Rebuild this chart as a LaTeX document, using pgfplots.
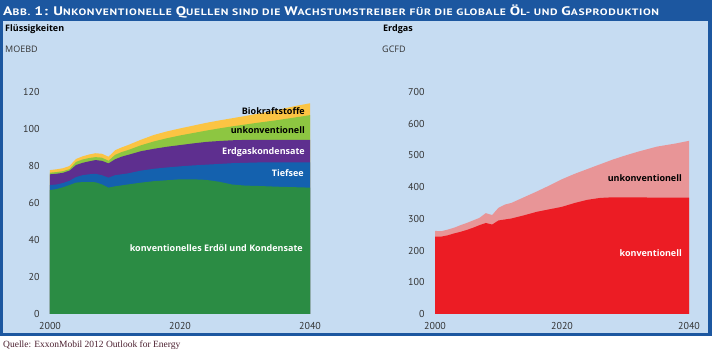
\documentclass[border=0pt]{standalone}
\usepackage{fontspec}
\setmainfont{Open Sans}
\newfontfamily\seriffont{Liberation Serif}
\newfontfamily\tickfont{PT Sans}
\newfontfamily\titlefont[FakeStretch=1.25,LetterSpace=7]{PT Sans}
\usepackage{pgfplots}
\pgfplotsset{compat=1.18}
\definecolor{frameblue}{HTML}{1C57A0}
\definecolor{panel}{HTML}{C6DCF2}
\definecolor{cgreen}{HTML}{2B8C44}
\definecolor{cblue}{HTML}{1461AE}
\definecolor{cpurple}{HTML}{5E2F8F}
\definecolor{clgreen}{HTML}{8DC641}
\definecolor{cyellow}{HTML}{FBC443}
\definecolor{cred}{HTML}{EC1C24}
\definecolor{cpink}{HTML}{E89597}
\definecolor{tickgray}{HTML}{333333}
\definecolor{srccol}{HTML}{4A1E2E}
\newcommand\Bg[1]{{\fontsize{12.4}{14}\selectfont #1}}
\newcommand\Sm[1]{{\fontsize{9.3}{11}\selectfont #1}}
\pgfplotsset{
  mystyle/.style={
    scale only axis,
    axis line style={draw=none},
    major tick length=0pt,
    xmin=2000, xmax=2040,
    xtick={2000,2020,2040},
    tick label style={font=\tickfont\fontsize{10}{12}\selectfont, text=tickgray},
    /pgf/number format/assume math mode=true,
    /pgf/number format/1000 sep={},
    yticklabel style={xshift=-7pt},
    xticklabel style={yshift=-5pt},
    anchor=south west,
  }
}
\begin{document}
\begin{tikzpicture}
\useasboundingbox (0pt,0pt) rectangle (712pt,355pt);
\fill[frameblue] (0pt,19pt) rectangle (712pt,355pt);
\fill[panel] (3pt,22pt) rectangle (708pt,334pt);
\node[anchor=base west, inner sep=0, text=white, font=\titlefont\bfseries] at (3pt,339pt)
 {\Bg{A}\Sm{BB.} \Bg{1:} \Bg{U}\Sm{NKONVENTIONELLE} \Bg{Q}\Sm{UELLEN SIND DIE} \Bg{W}\Sm{ACHSTUMSTREIBER FÜR DIE GLOBALE} \Bg{Ö}\Sm{L- UND} \Bg{G}\Sm{ASPRODUKTION}};
\node[anchor=west, inner sep=0, font=\bfseries\fontsize{9}{11}\selectfont] at (5pt,326pt) {Flüssigkeiten};
\node[anchor=west, inner sep=0, text=tickgray, font=\fontsize{9}{11}\selectfont] at (5pt,306pt) {MOEBD};
\node[anchor=west, inner sep=0, font=\bfseries\fontsize{9}{11}\selectfont] at (383pt,326pt) {Erdgas};
\node[anchor=west, inner sep=0, text=tickgray, font=\fontsize{9}{11}\selectfont] at (382pt,306pt) {GCFD};
\node[anchor=base west, inner sep=0, text=srccol, font=\seriffont\fontsize{9.5}{11}\selectfont] at (3pt,7pt) {Quelle: ExxonMobil 2012 Outlook for Energy};

\begin{axis}[mystyle, at={(50pt,41pt)}, width=260pt, height=222pt,
  ymin=0, ymax=120, ytick={0,20,...,120}]
\addplot[fill=cyellow, draw=none] coordinates {
(2000,77.8)(2001,78.2)(2002,78.8)(2003,80)(2004,83.8)(2005,85.2)(2006,86.2)(2007,86.9)(2008,86.6)(2009,85)(2010,88.5)(2011,90)(2012,91.3)(2014,94.2)(2016,96.8)(2018,98.7)(2020,100.3)(2022,101.8)(2024,103.3)(2026,104.6)(2028,105.8)(2030,107)(2032,108.3)(2035,110.3)(2038,112.6)(2040,113.9)} \closedcycle;
\addplot[fill=clgreen, draw=none] coordinates {
(2000,76.4)(2001,76.7)(2002,77.2)(2003,78.3)(2004,82.2)(2005,83.5)(2006,84.3)(2007,84.8)(2008,84.5)(2009,82.8)(2010,86)(2011,87.5)(2012,88.6)(2014,91.2)(2016,93.3)(2018,95)(2020,96.5)(2022,97.8)(2024,99.1)(2026,100.3)(2028,101.4)(2030,102.4)(2032,103.4)(2035,104.8)(2038,106.4)(2040,107.5)} \closedcycle;
\addplot[fill=cpurple, draw=none] coordinates {
(2000,75.5)(2001,75.8)(2002,76.3)(2003,77.5)(2004,80.5)(2005,81.7)(2006,82.5)(2007,83.2)(2008,82.8)(2009,81.4)(2010,83.6)(2011,85)(2012,86)(2014,88)(2016,89.3)(2018,90.4)(2020,91.3)(2022,92.2)(2024,93)(2026,93.5)(2028,93.9)(2030,94.1)(2032,94.1)(2035,94.1)(2038,94.1)(2040,94.1)} \closedcycle;
\addplot[fill=cblue, draw=none] coordinates {
(2000,69.7)(2001,70)(2002,70.8)(2003,72)(2004,74)(2005,75)(2006,75.5)(2007,75.8)(2008,75)(2009,73.7)(2010,75)(2011,75.5)(2012,76)(2014,77.5)(2016,78.5)(2018,79.2)(2020,79.8)(2022,80.3)(2024,80.7)(2026,81.1)(2028,81.5)(2030,81.7)(2032,81.9)(2035,82)(2038,82)(2040,82)} \closedcycle;
\addplot[fill=cgreen, draw=none] coordinates {
(2000,67)(2001,67.5)(2002,68.5)(2003,69.7)(2004,71)(2005,71.3)(2006,71.3)(2007,71.2)(2008,70)(2009,68.3)(2010,69)(2011,69.5)(2012,70)(2014,71)(2016,71.8)(2018,72.3)(2020,72.8)(2022,72.8)(2024,72.5)(2026,71.5)(2028,70)(2030,69.4)(2032,69.2)(2035,68.8)(2038,68.5)(2040,68.3)} \closedcycle;
\end{axis}

\begin{axis}[mystyle, at={(435pt,41pt)}, width=254pt, height=222pt,
  ymin=0, ymax=700, ytick={0,100,...,700}]
\addplot[fill=cpink, draw=none] coordinates {
(2000,262)(2001,261)(2002,266)(2003,272)(2004,280)(2005,287)(2006,295)(2007,303)(2008,318)(2009,312)(2010,335)(2011,345)(2012,350)(2014,368)(2016,386)(2018,405)(2020,425)(2022,442)(2024,457)(2026,472)(2028,487)(2030,500)(2032,512)(2035,528)(2038,538)(2040,546)} \closedcycle;
\addplot[fill=cred, draw=none] coordinates {
(2000,244)(2001,244)(2002,248)(2003,254)(2004,259)(2005,265)(2006,272)(2007,280)(2008,287)(2009,282)(2010,295)(2011,298)(2012,301)(2014,311)(2016,322)(2018,330)(2020,338)(2022,350)(2024,360)(2026,366)(2028,368)(2030,368)(2035,367)(2040,367)} \closedcycle;
\end{axis}

\begin{scope}[every node/.style={anchor=east, inner sep=0, font=\bfseries\fontsize{9}{11}\selectfont}]
\node at (305pt,244pt) {Biokraftstoffe};
\node at (305pt,225pt) {unkonventionell};
\node[text=white] at (305pt,203pt) {Erdgaskondensate};
\node[text=white] at (304pt,182pt) {Tiefsee};
\node[text=white] at (303pt,107pt) {konventionelles Erdöl und Kondensate};
\node at (682pt,177pt) {unkonventionell};
\node[text=white] at (682pt,102pt) {konventionell};
\end{scope}
\end{tikzpicture}
\end{document}
